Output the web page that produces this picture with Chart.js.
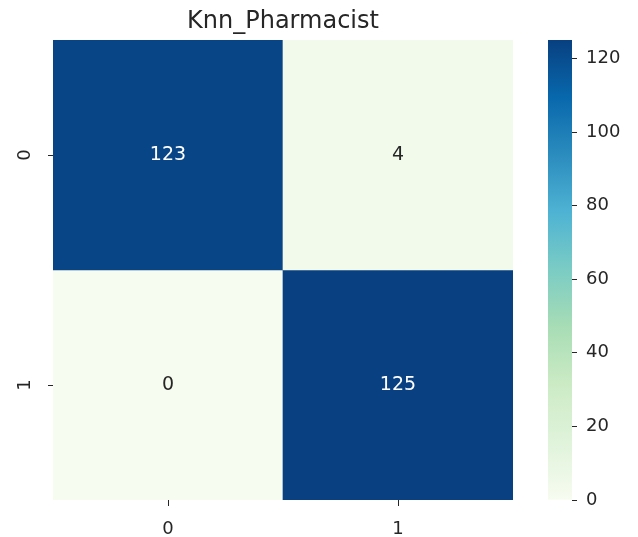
<!DOCTYPE html>
<html>
<head>
<meta charset="utf-8">
<script src="https://cdn.jsdelivr.net/npm/chart.js@4/dist/chart.umd.min.js"></script>
<style>
  html, body { margin: 0; padding: 0; background: #ffffff; }
  #wrap { position: relative; width: 638px; height: 537px; }
  canvas { position: absolute; left: 0; top: 0; }
</style>
</head>
<body>
<div id="wrap">
  <canvas id="main" width="638" height="537"></canvas>
  <canvas id="cbar" width="638" height="537"></canvas>
</div>
<script>
// ---- data ----
const chartTitle = 'Knn_Pharmacist';
const xLabels = ['0', '1'];
const yLabels = ['0', '1'];
const row0 = [123, 4];
const row1 = [0, 125];
const colorMin = 0;
const colorMax = 125;
const colorbarTicks = [0, 20, 40, 60, 80, 100, 120];

// GnBu colormap stops
const gnbu = ['#f7fcf0', '#e0f3db', '#ccebc5', '#a8ddb5', '#7bccc4', '#4eb3d3', '#2b8cbe', '#0868ac', '#084081'];

function hexToRgb(h) {
  return [parseInt(h.slice(1, 3), 16), parseInt(h.slice(3, 5), 16), parseInt(h.slice(5, 7), 16)];
}
function cmap(v) {
  let t = (v - colorMin) / (colorMax - colorMin);
  t = Math.max(0, Math.min(1, t));
  const p = t * (gnbu.length - 1);
  const i = Math.min(gnbu.length - 2, Math.floor(p));
  const f = p - i;
  const a = hexToRgb(gnbu[i]), b = hexToRgb(gnbu[i + 1]);
  const c = a.map((x, k) => Math.round(x + (b[k] - x) * f));
  return 'rgb(' + c.join(',') + ')';
}
function textColorFor(v) {
  const t = (v - colorMin) / (colorMax - colorMin);
  return t > 0.5 ? '#ffffff' : '#262626';
}

const rows = [row0, row1];
const FONT = 'DejaVu Sans';
const TXT = '#262626';

const datasets = rows.map((row, r) => ({
  label: 'row ' + yLabels[r],
  data: row.map(() => [r, r + 1]),
  backgroundColor: row.map(v => cmap(v)),
  borderWidth: 0,
  barPercentage: 1,
  categoryPercentage: 1,
  grouped: false
}));

const annotPlugin = {
  id: 'annot',
  afterDatasetsDraw(chart) {
    const ctx = chart.ctx;
    const xs = chart.scales.x, ys = chart.scales.y;
    ctx.save();
    ctx.font = '19px "' + FONT + '"';
    ctx.textAlign = 'center';
    ctx.textBaseline = 'middle';
    rows.forEach((row, r) => {
      row.forEach((v, c) => {
        ctx.fillStyle = textColorFor(v);
        ctx.fillText(String(v), xs.getPixelForValue(c), ys.getPixelForValue(r + 0.5));
      });
    });
    ctx.restore();
  },
  afterDraw(chart) {
    const ctx = chart.ctx;
    const a = chart.chartArea;
    ctx.save();
    ctx.font = '24px "' + FONT + '"';
    ctx.fillStyle = TXT;
    ctx.textAlign = 'center';
    ctx.textBaseline = 'middle';
    ctx.fillText(chartTitle, (a.left + a.right) / 2, 22);
    ctx.restore();
  }
};

new Chart(document.getElementById('main'), {
  type: 'bar',
  data: { labels: xLabels, datasets },
  options: {
    responsive: false,
    animation: false,
    layout: { padding: { top: 40, right: 125, left: 0, bottom: 0 } },
    plugins: { legend: { display: false }, tooltip: { enabled: false }, title: { display: false } },
    scales: {
      x: {
        type: 'category',
        offset: true,
        grid: { display: true, offset: false, drawOnChartArea: false, drawTicks: true, tickLength: 6, color: '#262626', tickWidth: 1 },
        border: { display: false },
        ticks: { color: TXT, font: { family: FONT, size: 18 }, padding: 13, maxRotation: 0, minRotation: 0 },
        afterFit(s) { s.height = 37; }
      },
      y: {
        type: 'linear',
        min: 0,
        max: 2,
        reverse: true,
        grid: { display: true, drawOnChartArea: false, drawTicks: true, tickLength: 5, color: '#262626', tickWidth: 1 },
        border: { display: false },
        afterBuildTicks(s) { s.ticks = yLabels.map((_, i) => ({ value: i + 0.5 })); },
        ticks: {
          color: TXT,
          font: { family: FONT, size: 18 },
          padding: 17,
          minRotation: 90,
          maxRotation: 90,
          crossAlign: 'center',
          callback: (val) => yLabels[Math.round(val - 0.5)]
        },
        afterFit(s) { s.width = 53; }
      }
    }
  },
  plugins: [annotPlugin]
});

// ---- colorbar ----
new Chart(document.getElementById('cbar'), {
  type: 'bar',
  data: {
    labels: ['cb'],
    datasets: [{
      data: [[colorMin, colorMax]],
      borderWidth: 0,
      barPercentage: 1,
      categoryPercentage: 1,
      backgroundColor(ctx) {
        const chart = ctx.chart;
        const ys = chart.scales.y;
        if (!ys || !chart.chartArea) return gnbu[0];
        const y0 = ys.getPixelForValue(colorMin), y1 = ys.getPixelForValue(colorMax);
        if (!isFinite(y0) || !isFinite(y1)) return gnbu[0];
        const g = chart.ctx.createLinearGradient(0, y0, 0, y1);
        gnbu.forEach((c, i) => g.addColorStop(i / (gnbu.length - 1), c));
        return g;
      }
    }]
  },
  options: {
    responsive: false,
    animation: false,
    layout: { padding: { top: 40, bottom: 37, left: 548, right: 0 } },
    plugins: { legend: { display: false }, tooltip: { enabled: false } },
    scales: {
      x: { display: false },
      y: {
        type: 'linear',
        position: 'right',
        min: colorMin,
        max: colorMax,
        grid: { display: true, drawOnChartArea: false, drawTicks: true, tickLength: 5, color: '#262626' },
        border: { display: false },
        afterBuildTicks(s) { s.ticks = colorbarTicks.map(v => ({ value: v })); },
        ticks: { color: TXT, font: { family: FONT, size: 18 }, padding: 9 },
        afterFit(s) { s.width = 66; }
      }
    }
  }
});
</script>
</body>
</html>
